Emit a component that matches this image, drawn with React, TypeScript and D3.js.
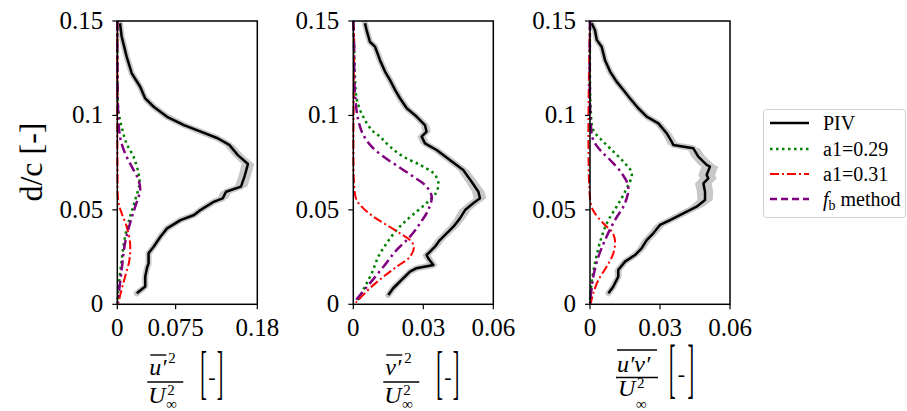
import React from "react";
import * as d3 from "d3";

// ---------- DATA ----------
const yTicks = [0, 0.05, 0.1, 0.15];
const yTickLabels = ["0", "0.05", "0.1", "0.15"];
const xTicks1 = [0, 0.075, 0.18];
const xTickLabels1 = ["0", "0.075", "0.18"];
const xTicks2 = [0, 0.03, 0.06];
const xTickLabels2 = ["0", "0.03", "0.06"];
const xTicks3 = [0, 0.03, 0.06];
const xTickLabels3 = ["0", "0.03", "0.06"];
const legendLabels = ["PIV", "a1=0.29", "a1=0.31", "method"];

// Panel 1: u'^2
const piv1Y = [0.1488,0.1418,0.131,0.1223,0.1152,0.109,0.1046,0.0993,0.0949,0.0914,0.0879,0.0844,0.079,0.0743,0.0676,0.0623,0.0596,0.0561,0.0544,0.05,0.0473,0.0446,0.0402,0.0358,0.0305,0.027,0.0217,0.0191,0.0146,0.0094,0.0058];
const piv1X = [0.0035,0.0056,0.0121,0.0186,0.0294,0.0359,0.0467,0.064,0.0857,0.1073,0.129,0.144,0.155,0.168,0.1635,0.159,0.1398,0.1355,0.1246,0.1073,0.0987,0.0813,0.064,0.0554,0.0467,0.0402,0.0402,0.0381,0.0359,0.0359,0.0251];
const piv1Err = [0.0015,0.0015,0.002,0.0025,0.003,0.0035,0.004,0.0045,0.005,0.0055,0.006,0.0065,0.007,0.008,0.008,0.008,0.007,0.007,0.0065,0.006,0.0055,0.005,0.0045,0.004,0.0035,0.003,0.003,0.0025,0.0025,0.002,0.002];
const g1Y = [0.15,0.125,0.1029,0.094,0.085,0.0782,0.0694,0.064,0.0552,0.0464,0.0358,0.0235,0.0076,0.0005];
const g1X = [0,0.0003,0.0013,0.0056,0.012,0.0208,0.0273,0.0286,0.023,0.0164,0.01,0.0056,0.0013,0];
const r1Y = [0.15,0.1,0.07,0.0544,0.0482,0.0411,0.0323,0.0235,0.0146,0.0058,0.0005];
const r1X = [0,0,0.0003,0.0013,0.0056,0.012,0.0164,0.0156,0.01,0.0043,0.0013];
const p1Y = [0.15,0.125,0.103,0.0888,0.08,0.0729,0.0658,0.0605,0.0517,0.0429,0.0323,0.0182,0.004,0.0005];
const p1X = [0,0.0002,0.001,0.0035,0.0099,0.0186,0.0273,0.0294,0.023,0.0164,0.0099,0.0056,0.0013,0.0002];

// Panel 2: v'^2
const piv2Y = [0.1488,0.1452,0.139,0.1364,0.1294,0.1232,0.1188,0.1135,0.1091,0.1038,0.0994,0.0949,0.0914,0.0888,0.0852,0.0817,0.0764,0.0711,0.0649,0.0596,0.0561,0.0535,0.0499,0.0455,0.0411,0.0376,0.034,0.0305,0.0279,0.0261,0.0244,0.0208,0.0191,0.0173,0.0129,0.0085,0.0049];
const piv2X = [0.005,0.0057,0.0071,0.0093,0.0114,0.0136,0.0157,0.0179,0.02,0.0229,0.0271,0.0307,0.0314,0.0293,0.0307,0.0357,0.0414,0.0471,0.0507,0.0536,0.0543,0.0514,0.0479,0.0457,0.0429,0.04,0.0371,0.035,0.0329,0.0314,0.0321,0.0343,0.0271,0.0243,0.0207,0.0171,0.015];
const piv2Err = [0.0011,0.0011,0.0012,0.0013,0.0013,0.0014,0.0014,0.0015,0.0015,0.0016,0.0017,0.0018,0.0018,0.0018,0.0019,0.002,0.0021,0.0023,0.0025,0.0027,0.0027,0.0026,0.0025,0.0023,0.0022,0.0021,0.002,0.0019,0.0018,0.0018,0.0018,0.0017,0.0015,0.0014,0.0013,0.0012,0.0011];
const g2Y = [0.15,0.14,0.1205,0.1091,0.1029,0.0976,0.0923,0.0888,0.0835,0.0782,0.0738,0.0694,0.0649,0.0596,0.0544,0.0499,0.0446,0.0394,0.0323,0.0252,0.0164,0.0094,0.0041,0.0014];
const g2X = [0,0.0003,0.0007,0.0014,0.0029,0.005,0.0079,0.0114,0.0157,0.0214,0.0286,0.0343,0.0364,0.0357,0.0321,0.0279,0.0229,0.0186,0.0143,0.0107,0.0079,0.005,0.0029,0.0014];
const r2Y = [0.15,0.14,0.0623,0.0552,0.0508,0.0464,0.042,0.0376,0.034,0.0305,0.0252,0.0199,0.0146,0.0085,0.0032,0.0009];
const r2X = [0,0.0003,0.0004,0.0014,0.0043,0.0086,0.0143,0.02,0.0243,0.026,0.0243,0.0186,0.0129,0.0071,0.0029,0.0011];
const p2Y = [0.15,0.14,0.1117,0.0976,0.0896,0.0835,0.0782,0.0729,0.0676,0.0623,0.057,0.0499,0.0429,0.0358,0.0288,0.0199,0.0111,0.0049,0.0014];
const p2X = [0,0.0003,0.0007,0.0021,0.0043,0.0079,0.0129,0.0193,0.0257,0.0314,0.0336,0.0321,0.0286,0.0243,0.0186,0.0129,0.0071,0.0029,0.0007];

// Panel 3: u'v'
const piv3Y = [0.1488,0.1452,0.14,0.1364,0.1294,0.1232,0.1179,0.1135,0.1091,0.1038,0.0994,0.0958,0.0905,0.0861,0.0844,0.0826,0.0782,0.0738,0.0729,0.0685,0.0667,0.064,0.0596,0.0552,0.0517,0.0482,0.0446,0.042,0.0376,0.034,0.0296,0.0261,0.0226,0.0182,0.0146,0.0094,0.0058];
const piv3X = [0.0007,0.0021,0.0029,0.005,0.0064,0.0086,0.0114,0.0143,0.0171,0.0207,0.0243,0.0293,0.0329,0.035,0.0357,0.0443,0.0464,0.05,0.0514,0.05,0.0507,0.0486,0.0493,0.0493,0.0457,0.04,0.0343,0.03,0.0271,0.0243,0.0221,0.0193,0.015,0.0121,0.0121,0.01,0.0079];
const piv3Err = [0.0008,0.0008,0.0009,0.001,0.0011,0.0012,0.0013,0.0014,0.0015,0.0016,0.0017,0.0018,0.002,0.0021,0.0022,0.0026,0.003,0.0034,0.0036,0.0036,0.0036,0.0036,0.0035,0.0033,0.003,0.0027,0.0024,0.0022,0.002,0.0019,0.0018,0.0017,0.0016,0.0015,0.0014,0.0013,0.0012];
const g3Y = [0.15,0.1029,0.0923,0.087,0.0817,0.0755,0.0694,0.0596,0.0517,0.0446,0.0358,0.0217,0.0076,0.0005];
const g3X = [0,0.0003,0.0014,0.005,0.0093,0.0143,0.0179,0.015,0.0114,0.0079,0.005,0.0021,0.0003,0];
const r3Y = [0.15,0.0535,0.0482,0.0429,0.0385,0.034,0.027,0.0199,0.0129,0.0058,0.0005];
const r3X = [0,0.0003,0.0021,0.0057,0.0093,0.0107,0.01,0.0071,0.0036,0.0014,0.0003];
const p3Y = [0.15,0.0958,0.087,0.0817,0.0764,0.0694,0.0623,0.0535,0.0446,0.0358,0.0252,0.0146,0.0041,0.0005];
const p3X = [0,0.0003,0.0014,0.0043,0.0086,0.0136,0.0164,0.015,0.0107,0.0071,0.0036,0.0014,0.0003,0];

// ---------- LAYOUT / STYLE ----------
const W = 907;
const H = 411;
const TOP = 21;
const BOTTOM = 304.3;
const PW = 140;
const FONT = "Liberation Serif, DejaVu Serif, Times New Roman, serif";
const GREEN = "#008000";
const RED = "#ff0000";
const PURPLE = "#800080";
const BAND = "#c8c8c8";

type Series = { y: number[]; x: number[] };
type PanelDef = {
  x0: number;
  xMax: number;
  xTicks: number[];
  xTickLabels: string[];
  piv: Series;
  err: number[];
  green: Series;
  red: Series;
  purple: Series;
  label: "u2" | "v2" | "uv";
};

const panels: PanelDef[] = [
  { x0: 117.3, xMax: 0.18, xTicks: xTicks1, xTickLabels: xTickLabels1, piv: { y: piv1Y, x: piv1X }, err: piv1Err, green: { y: g1Y, x: g1X }, red: { y: r1Y, x: r1X }, purple: { y: p1Y, x: p1X }, label: "u2" },
  { x0: 353.3, xMax: 0.06, xTicks: xTicks2, xTickLabels: xTickLabels2, piv: { y: piv2Y, x: piv2X }, err: piv2Err, green: { y: g2Y, x: g2X }, red: { y: r2Y, x: r2X }, purple: { y: p2Y, x: p2X }, label: "v2" },
  { x0: 590, xMax: 0.06, xTicks: xTicks3, xTickLabels: xTickLabels3, piv: { y: piv3Y, x: piv3X }, err: piv3Err, green: { y: g3Y, x: g3X }, red: { y: r3Y, x: r3X }, purple: { y: p3Y, x: p3X }, label: "uv" },
];

const yScale = d3.scaleLinear().domain([0, 0.15]).range([BOTTOM, TOP]);
const txt = { fontFamily: FONT };

function Brackets({ x1, x2, top, bottom }: { x1: number; x2: number; top: number; bottom: number }) {
  const fs = 22;
  const sc = (bottom - top) / (0.85 * fs);
  const base = bottom - 0.19 * fs * sc;
  const mid = (top + bottom) / 2;
  return (
    <g fill="#000">
      <text transform={`translate(${x1},${base}) scale(0.9,${sc})`} fontSize={fs} style={txt}>[</text>
      <text x={(x1 + x2) / 2} y={mid + 6} fontSize={22} textAnchor="middle" style={txt}>-</text>
      <text transform={`translate(${x2},${base}) scale(0.9,${sc})`} fontSize={fs} textAnchor="end" style={txt}>]</text>
    </g>
  );
}

function XLabel({ x0, kind }: { x0: number; kind: "u2" | "v2" | "uv" }) {
  if (kind === "uv") {
    return (
      <g fill="#000">
        <line x1={x0 + 27} x2={x0 + 67} y1={350} y2={350} stroke="#000" strokeWidth={1.4} />
        <text x={x0 + 27} y={372} fontSize={24} fontStyle="italic" style={txt}>u′v′</text>
        <line x1={x0 + 26} x2={x0 + 68} y1={377.5} y2={377.5} stroke="#000" strokeWidth={1.4} />
        <text x={x0 + 28} y={396} fontSize={24} fontStyle="italic" style={txt}>U</text>
        <text x={x0 + 47} y={388} fontSize={15} style={txt}>2</text>
        <text x={x0 + 46} y={408.5} fontSize={15} style={txt}>∞</text>
        <Brackets x1={x0 + 79} x2={x0 + 104} top={347} bottom={403} />
      </g>
    );
  }
  const letter = kind === "u2" ? "u′" : "v′";
  return (
    <g fill="#000">
      <line x1={x0 + 33} x2={x0 + 49} y1={355} y2={355} stroke="#000" strokeWidth={1.4} />
      <text x={x0 + 32} y={375} fontSize={24} fontStyle="italic" style={txt}>{letter}</text>
      <text x={x0 + 51} y={363} fontSize={15} style={txt}>2</text>
      <line x1={x0 + 30} x2={x0 + 66} y1={382} y2={382} stroke="#000" strokeWidth={1.4} />
      <text x={x0 + 31} y={403} fontSize={24} fontStyle="italic" style={txt}>U</text>
      <text x={x0 + 50} y={395} fontSize={15} style={txt}>2</text>
      <text x={x0 + 49} y={408.5} fontSize={15} style={txt}>∞</text>
      <Brackets x1={x0 + 83} x2={x0 + 106} top={352} bottom={403} />
    </g>
  );
}

function Panel({ p }: { p: PanelDef }) {
  const xScale = d3.scaleLinear().domain([0, p.xMax]).range([p.x0, p.x0 + PW]);
  const toPts = (s: Series) => s.y.map((y, i) => ({ x: s.x[i], y }));
  const line = d3.line<{ x: number; y: number }>().x((d) => xScale(d.x)).y((d) => yScale(d.y));
  const smooth = d3.line<{ x: number; y: number }>().x((d) => xScale(d.x)).y((d) => yScale(d.y)).curve(d3.curveCatmullRom.alpha(0.5));
  const bandPts = p.piv.y.map((y, i) => ({ y, x: p.piv.x[i], e: p.err[i] }));
  const area = d3
    .area<{ y: number; x: number; e: number }>()
    .y((d) => yScale(d.y))
    .x0((d) => xScale(d.x - d.e))
    .x1((d) => xScale(d.x + d.e));
  return (
    <g>
      <path d={area(bandPts) || ""} fill={BAND} stroke="none" />
      <path d={line(toPts(p.piv)) || ""} fill="none" stroke={BAND} strokeWidth={6} strokeLinejoin="round" strokeLinecap="round" />
      <path d={line(toPts(p.piv)) || ""} fill="none" stroke="#000" strokeWidth={2.5} strokeLinejoin="round" />
      <path d={smooth(toPts(p.green)) || ""} fill="none" stroke={GREEN} strokeWidth={2.5} strokeDasharray="2.5 3.5" />
      <path d={smooth(toPts(p.red)) || ""} fill="none" stroke={RED} strokeWidth={2} strokeDasharray="9 3 2 3" />
      <path d={smooth(toPts(p.purple)) || ""} fill="none" stroke={PURPLE} strokeWidth={2.5} strokeDasharray="10 4 2.5 4" />
      <rect x={p.x0} y={TOP} width={PW} height={BOTTOM - TOP} fill="none" stroke="#000" strokeWidth={1.5} />
      {yTicks.map((t, i) => (
        <g key={"y" + i}>
          <line x1={p.x0 - 5} x2={p.x0} y1={yScale(t)} y2={yScale(t)} stroke="#000" strokeWidth={1.2} />
          <text x={p.x0 - 14} y={yScale(t) + 8} fontSize={25} textAnchor="end" style={txt}>{yTickLabels[i]}</text>
        </g>
      ))}
      {p.xTicks.map((t, i) => (
        <g key={"x" + i}>
          <line x1={xScale(t)} x2={xScale(t)} y1={BOTTOM} y2={BOTTOM + 5} stroke="#000" strokeWidth={1.2} />
          <text x={xScale(t)} y={336} fontSize={25} textAnchor="middle" style={txt}>{p.xTickLabels[i]}</text>
        </g>
      ))}
      <XLabel x0={p.x0} kind={p.label} />
    </g>
  );
}

function Legend() {
  const lx = 763.5;
  const ly = 109.5;
  const rows = [123, 149, 174, 199];
  const styles = [
    { stroke: "#000", w: 2.5, dash: "" },
    { stroke: GREEN, w: 2.5, dash: "2.5 3.5" },
    { stroke: RED, w: 2, dash: "9 3 2 3" },
    { stroke: PURPLE, w: 2.5, dash: "7 4" },
  ];
  return (
    <g>
      <rect x={lx} y={ly} width={142} height={108} rx={3} fill="#fff" stroke="#d0d0d0" strokeWidth={1} />
      {rows.map((ry, i) => (
        <g key={i}>
          <line x1={770} x2={809} y1={ry} y2={ry} stroke={styles[i].stroke} strokeWidth={styles[i].w} strokeDasharray={styles[i].dash || undefined} />
          {i < 3 ? (
            <text x={823} y={ry + 6.5} fontSize={20} style={txt}>{legendLabels[i]}</text>
          ) : (
            <text x={823} y={ry + 6.5} fontSize={20} style={txt}>
              <tspan fontStyle="italic">f</tspan>
              <tspan fontSize={14} dy={4}>b</tspan>
              <tspan dy={-4}>{" " + legendLabels[i]}</tspan>
            </text>
          )}
        </g>
      ))}
    </g>
  );
}

export default function App() {
  return (
    <svg width={W} height={H} viewBox={`0 0 ${W} ${H}`} style={{ position: "absolute", left: 0, top: 0, background: "#fff" }}>
      <rect x={0} y={0} width={W} height={H} fill="#fff" />
      {panels.map((p, i) => (
        <Panel key={i} p={p} />
      ))}
      <text transform="translate(31,162) rotate(-90)" dominantBaseline="central" fontSize={32} textAnchor="middle" style={txt}>d/c [-]</text>
      <Legend />
    </svg>
  );
}
